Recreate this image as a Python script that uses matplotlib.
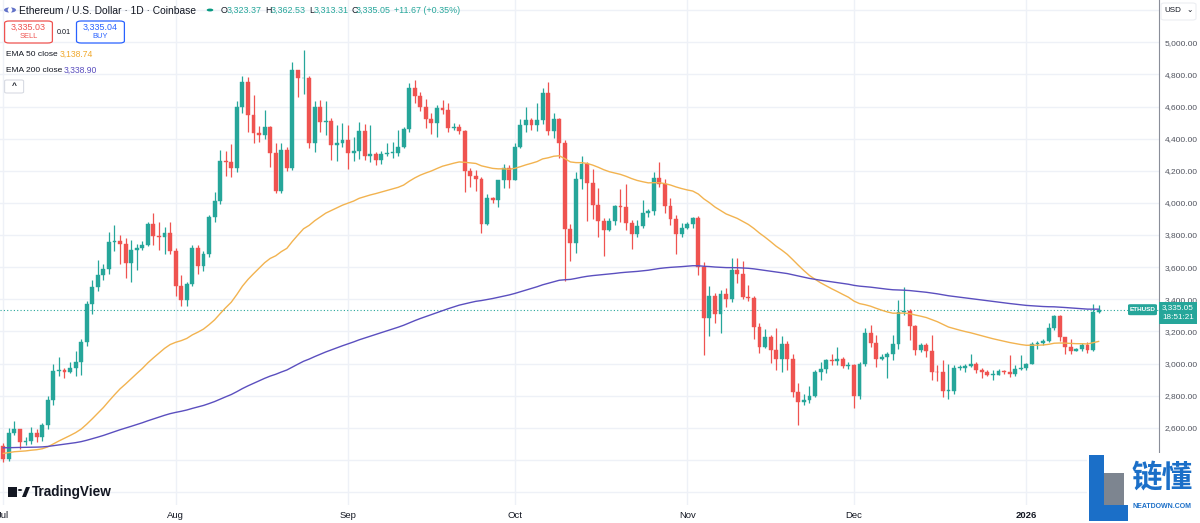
import matplotlib
matplotlib.use("Agg")
import matplotlib.pyplot as plt
import numpy as np
from matplotlib.patches import Rectangle, FancyBboxPatch, Polygon, Circle

# ---------------- data (ETHUSD daily, Jul 1 2025 .. Jan 14 2026) ----------------
first_open = 2485.0
closes = [
    # Jul
    2405, 2570, 2590, 2510, 2515, 2570, 2540, 2615, 2770, 2955, 2960, 2945, 2970, 3010, 3135, 3370,
    3475, 3550, 3590, 3755, 3760, 3745, 3625, 3705, 3720, 3740, 3870, 3795, 3790, 3810, 3700,
    # Aug
    3480, 3395, 3495, 3720, 3610, 3680, 3910, 4010, 4260, 4255, 4220, 4600, 4750, 4550, 4435, 4425,
    4475, 4310, 4075, 4330, 4220, 4830, 4775, 4780, 4375, 4595, 4505, 4510, 4360, 4370, 4390,
    # Sep
    4310, 4325, 4450, 4295, 4305, 4270, 4305, 4310, 4312, 4350, 4460, 4715, 4665, 4600, 4520,
    4500, 4590, 4580, 4465, 4475, 4450, 4200, 4165, 4150, 3870, 4030, 4020, 4140, 4215, 4145,
    # Oct
    4350, 4485, 4515, 4485, 4515, 4685, 4450, 4525, 4370, 3835, 3750, 4150, 4245, 4125, 3985, 3890,
    3830, 3890, 3980, 3975, 3875, 3805, 3855, 3935, 3950, 4155, 4120, 3980, 3900, 3805, 3845,
    # Nov
    3870, 3905, 3600, 3285, 3420, 3310, 3435, 3400, 3580, 3560, 3415, 3410, 3230, 3105, 3165,
    3085, 3025, 3120, 3025, 2825, 2760, 2770, 2800, 2950, 2965, 3020, 3015, 3030, 2985, 2990,
    # Dec
    2795, 2995, 3190, 3130, 3025, 3040, 3060, 3120, 3320, 3325, 3235, 3085, 3115, 3080, 2950, 2945,
    2830, 2830, 2975, 2975, 2985, 3000, 2960, 2945, 2930, 2930, 2955, 2950, 2935, 2965, 2970,
    # Jan
    3000, 3121, 3125, 3140, 3220, 3295, 3163, 3104, 3080, 3088, 3115, 3085, 3323.37, 3335.05,
]
highs = [
    2505, 2600, 2640, 2595, 2545, 2605, 2590, 2630, 2795, 3000, 3040, 2975, 3010, 3080, 3155, 3390,
    3520, 3645, 3620, 3820, 3860, 3800, 3780, 3770, 3745, 3760, 3880, 3940, 3880, 3850, 3880,
    3720, 3550, 3510, 3735, 3735, 3700, 3925, 4070, 4330, 4325, 4365, 4635, 4790, 4785, 4670, 4480,
    4580, 4480, 4370, 4375, 4350, 4880, 4830, 4955, 4790, 4635, 4640, 4635, 4530, 4485, 4495,
    4485, 4410, 4505, 4490, 4485, 4320, 4325, 4370, 4380, 4455, 4475, 4745, 4765, 4690, 4650,
    4560, 4610, 4640, 4625, 4495, 4490, 4455, 4220, 4205, 4160, 4055, 4035, 4145, 4240, 4235,
    4375, 4520, 4595, 4530, 4620, 4715, 4755, 4560, 4530, 4390, 3870, 4195, 4295, 4255, 4210, 4090,
    3905, 3905, 3990, 4085, 4115, 3895, 3895, 4020, 3960, 4190, 4255, 4150, 4030, 3925, 3875,
    3880, 3915, 3920, 3630, 3485, 3440, 3460, 3470, 3655, 3655, 3640, 3490, 3420, 3250, 3215,
    3180, 3220, 3170, 3140, 3060, 2880, 2810, 2860, 2960, 3010, 3030, 3060, 3100, 3040, 3010,
    3000, 3010, 3220, 3240, 3175, 3060, 3070, 3180, 3395, 3475, 3340, 3240, 3130, 3130, 3180, 2990,
    3020, 3000, 2990, 2990, 3000, 3060, 3010, 2975, 2960, 2960, 2965, 2960, 3055, 2990, 3050,
    3005, 3135, 3140, 3155, 3255, 3305, 3300, 3165, 3150, 3095, 3130, 3135, 3370, 3362.53,
]
lows = [
    2385, 2390, 2555, 2470, 2490, 2500, 2510, 2520, 2590, 2740, 2920, 2910, 2940, 2920, 2930, 3110,
    3310, 3450, 3520, 3560, 3700, 3620, 3530, 3510, 3580, 3705, 3730, 3735, 3705, 3680, 3680,
    3420, 3355, 3355, 3480, 3560, 3575, 3665, 3880, 3995, 4165, 4160, 4190, 4560, 4440, 4370, 4380,
    4400, 4225, 4060, 4060, 4200, 4205, 4660, 4680, 4340, 4315, 4440, 4425, 4265, 4260, 4350,
    4210, 4260, 4275, 4270, 4255, 4235, 4245, 4290, 4280, 4290, 4340, 4440, 4620, 4575, 4465,
    4430, 4410, 4555, 4440, 4455, 4430, 4065, 4100, 4075, 3815, 3865, 4000, 3975, 4090, 4090,
    4140, 4340, 4440, 4455, 4450, 4490, 4420, 4405, 4280, 3515, 3640, 3690, 4085, 3890, 3900, 3790,
    3670, 3825, 3860, 3880, 3830, 3710, 3785, 3845, 3915, 3925, 4100, 3935, 3860, 3680, 3790,
    3835, 3845, 3550, 3055, 3170, 3250, 3190, 3350, 3385, 3500, 3400, 3390, 3155, 3065, 3095,
    3005, 2960, 2950, 2960, 2790, 2620, 2740, 2755, 2790, 2900, 2940, 2990, 2990, 2970, 2965,
    2720, 2780, 2985, 3100, 2980, 3020, 2910, 3020, 3090, 3300, 3145, 3050, 3070, 3040, 2895, 2890,
    2790, 2780, 2810, 2960, 2950, 2980, 2940, 2910, 2920, 2895, 2930, 2935, 2915, 2925, 2960,
    2960, 2995, 3090, 3115, 3135, 3210, 3140, 3060, 3060, 3080, 3075, 3065, 3075, 3313.31,
]
opens = [first_open] + closes[:-1]
opens[-1] = 3323.37

ema50_start = 2440.0
ema200_start = 2475.0

month_idx = [0, 31, 62, 92, 123, 153, 184]
month_labels = ["Jul", "Aug", "Sep", "Oct", "Nov", "Dec", "2026"]
price_ticks = [2600, 2800, 3000, 3200, 3400, 3600, 3800, 4000, 4200, 4400, 4600, 4800, 5000]

# ---------------- indicators ----------------
def ema(values, start, n):
    a = 2.0 / (n + 1)
    out = [start]
    for v in values[1:]:
        out.append(a * v + (1 - a) * out[-1])
    return out

ema50 = ema(closes, ema50_start, 50)
ema200 = ema(closes, ema200_start, 200)

# ---------------- figure ----------------
W, H = 1200, 523
fig = plt.figure(figsize=(12, 5.23), dpi=100)
fig.patch.set_facecolor("white")
FONT = "Liberation Sans"
plt.rcParams["font.family"] = FONT

def fx(x):
    return x / W

def fy(y):
    return 1 - y / H

PLOT_R = 1159
PLOT_B = 505
ax = fig.add_axes([0, fy(PLOT_B), fx(PLOT_R), PLOT_B / H])
ax.set_facecolor("white")

UP = "#26a69a"
DN = "#ef5350"
GRID = "#eef1f7"
TXT = "#131722"

def ypx_to_price(y):
    return 5000 - (y - 42.3) * 200 / 32.12

def xpx_to_idx(x):
    return (x - 3.3) / 5.56

ax.set_ylim(ypx_to_price(PLOT_B), ypx_to_price(0))
ax.set_xlim(xpx_to_idx(0), xpx_to_idx(PLOT_R))

for p in range(2200, 5400, 200):
    ax.axhline(p, color=GRID, lw=1, zorder=0)
for m in month_idx:
    ax.axvline(m, color=GRID, lw=1, zorder=0)

n = len(closes)
idx = np.arange(n)
o = np.array(opens, float)
c = np.array(closes, float)
h = np.array(highs, float)
l = np.array(lows, float)
cols = [UP if cc >= oo else DN for oo, cc in zip(o, c)]
ax.vlines(idx, l, h, colors=cols, lw=0.9, zorder=2)
bottom = np.minimum(o, c)
height = np.maximum(np.abs(c - o), 4)
ax.bar(idx, height, bottom=bottom, width=0.7, color=cols, edgecolor=cols, lw=0.3, zorder=3)

ax.plot(idx, ema50, color="#f2b350", lw=1.0, zorder=4)
ax.plot(idx, ema200, color="#5b4fbf", lw=1.0, zorder=4)

last = closes[-1]
ax.axhline(last, color=UP, lw=0.8, ls=(0, (1, 2)), zorder=1)

# axes styling
for s in ["top", "left", "bottom"]:
    ax.spines[s].set_visible(False)
ax.spines["right"].set_color("#8a8e99")
ax.spines["right"].set_linewidth(0.8)
ax.yaxis.tick_right()
ax.set_yticks(price_ticks)
ax.set_yticklabels([f"{p:,.2f}" for p in price_ticks])
ax.tick_params(axis="y", length=0, pad=4, labelsize=6.0, labelcolor="#50535e")
ax.set_xticks(month_idx)
ax.set_xticklabels(month_labels)
ax.tick_params(axis="x", length=0, pad=4, labelsize=6.8, labelcolor=TXT)
for lbl in ax.get_xticklabels():
    if lbl.get_text() == "2026":
        lbl.set_fontweight("bold")

# ---------------- header ----------------
fig.patches.append(Circle((fx(10), fy(10)), 6 / W, transform=fig.transFigure,
                          facecolor="#6272c8", edgecolor="none"))
fig.patches.append(Polygon([[fx(10), fy(5)], [fx(12.5), fy(10)], [fx(10), fy(15)], [fx(7.5), fy(10)]],
                           closed=True, transform=fig.transFigure, facecolor="white", edgecolor="none"))
fig.text(fx(19), fy(10.5), "Ethereum / U.S. Dollar · 1D · Coinbase", fontsize=7.4,
         color=TXT, va="center", ha="left")
fig.patches.append(Circle((fx(210), fy(10)), 3.3 / W, transform=fig.transFigure,
                          facecolor="#089981", edgecolor="none"))
seg = [(221, "O", TXT), (226.5, "3,323.37", UP), (265, "H", TXT), (270.5, "3,362.53", UP),
       (309, "L", TXT), (313.5, "3,313.31", UP), (351, "C", TXT), (356, "3,335.05", UP),
       (394, "+11.67 (+0.35%)", UP)]
for xx, t, colr in seg:
    fig.text(fx(xx), fy(10.5), t, fontsize=6.4, color=colr, va="center", ha="left")

# sell / buy boxes
for (x0, x1, top, bot, colr, t1, t2) in [(4.6, 52.4, 21, 43, "#ef5350", "3,335.03", "SELL"),
                                         (76.5, 124.4, 21, 43, "#2962ff", "3,335.04", "BUY")]:
    fig.patches.append(FancyBboxPatch((fx(x0), fy(bot)), fx(x1 - x0), (bot - top) / H,
                                      boxstyle="round,pad=0,rounding_size=0.004",
                                      transform=fig.transFigure, facecolor="white",
                                      edgecolor=colr, lw=0.9))
    fig.text(fx((x0 + x1) / 2), fy(27.5), t1, fontsize=6.4, color=colr, ha="center", va="center")
    fig.text(fx((x0 + x1) / 2), fy(36.5), t2, fontsize=5.4, color=colr, ha="center", va="center")
fig.text(fx(64.3), fy(32), "0.01", fontsize=5.2, color=TXT, ha="center", va="center")

fig.text(fx(5.7), fy(54), "EMA 50 close", fontsize=6.0, color=TXT, va="center")
fig.text(fx(59.3), fy(54), "3,138.74", fontsize=6.2, color="#f0a82c", va="center")
fig.text(fx(5.7), fy(70), "EMA 200 close", fontsize=6.0, color=TXT, va="center")
fig.text(fx(63.9), fy(70), "3,338.90", fontsize=6.2, color="#5b4fbf", va="center")
fig.patches.append(FancyBboxPatch((fx(4.6), fy(93)), fx(19), 13 / H,
                                  boxstyle="round,pad=0,rounding_size=0.002",
                                  transform=fig.transFigure, facecolor="white",
                                  edgecolor="#d8dbe3", lw=0.8))
fig.text(fx(14), fy(86.5), "^", fontsize=6, color=TXT, ha="center", va="center",
         fontweight="bold")

# USD selector
fig.patches.append(FancyBboxPatch((fx(1161), fy(20)), fx(35), 17 / H,
                                  boxstyle="round,pad=0,rounding_size=0.003",
                                  transform=fig.transFigure, facecolor="white",
                                  edgecolor="#eceef2", lw=0.8))
fig.text(fx(1164), fy(11), "USD", fontsize=5.8, color=TXT, va="center")
fig.text(fx(1190), fy(10), "⌄", fontsize=5.5, color=TXT, va="center", ha="center",
         family="DejaVu Sans")

# last price labels
y_last = 42.3 + (5000 - last) * 32.12 / 200
fig.patches.append(FancyBboxPatch((fx(1128), fy(y_last + 5.5)), fx(29), 11 / H,
                                  boxstyle="round,pad=0,rounding_size=0.002",
                                  transform=fig.transFigure, facecolor=UP, edgecolor="none"))
fig.text(fx(1142.5), fy(y_last), "ETHUSD", fontsize=4.6, color="white", ha="center", va="center",
         fontweight="bold")
fig.patches.append(Rectangle((fx(1159), fy(y_last + 14)), fx(38), 22 / H,
                             transform=fig.transFigure, facecolor=UP, edgecolor="none"))
fig.text(fx(1178), fy(y_last - 2.5), "3,335.05", fontsize=5.9, color="white", ha="center", va="center")
fig.text(fx(1178), fy(y_last + 7.5), "18:51:21", fontsize=5.9, color="white", ha="center", va="center")

# TradingView logo
fig.patches.append(Rectangle((fx(8), fy(497)), fx(9), 10 / H, transform=fig.transFigure,
                             facecolor=TXT, edgecolor="none"))
fig.patches.append(Circle((fx(20), fy(490)), 2.2 / W, transform=fig.transFigure,
                          facecolor=TXT, edgecolor="none"))
fig.patches.append(Polygon([[fx(22), fy(497)], [fx(26), fy(487)], [fx(30), fy(487)], [fx(26), fy(497)]],
                           closed=True, transform=fig.transFigure, facecolor=TXT, edgecolor="none"))
fig.text(fx(32), fy(492), "TradingView", fontsize=9.8, color=TXT, va="center",
         fontweight="bold")

# watermark (bottom right)
fig.patches.append(Rectangle((fx(1087), fy(523)), fx(113), 70 / H, transform=fig.transFigure,
                             facecolor="white", edgecolor="none", zorder=5))
fig.patches.append(Polygon([[fx(1089), fy(455)], [fx(1104), fy(455)], [fx(1104), fy(505)],
                            [fx(1128), fy(505)], [fx(1128), fy(521)], [fx(1089), fy(521)]],
                           closed=True, transform=fig.transFigure, facecolor="#1b6fc8",
                           edgecolor="none", zorder=6))
fig.patches.append(Rectangle((fx(1104), fy(505)), fx(20), 32 / H, transform=fig.transFigure,
                             facecolor="#7d8590", edgecolor="none", zorder=6))
fig.text(fx(1162), fy(478), "链懂", fontsize=22, color="#1b6fc8", ha="center", va="center",
         family=["Noto Sans CJK SC", "DejaVu Sans"], fontweight="bold", zorder=7)
fig.text(fx(1162), fy(506), "NEATDOWN.COM", fontsize=5, color="#1b6fc8", ha="center", va="center",
         fontweight="bold", zorder=7)

fig.savefig("out.png", dpi=100)
